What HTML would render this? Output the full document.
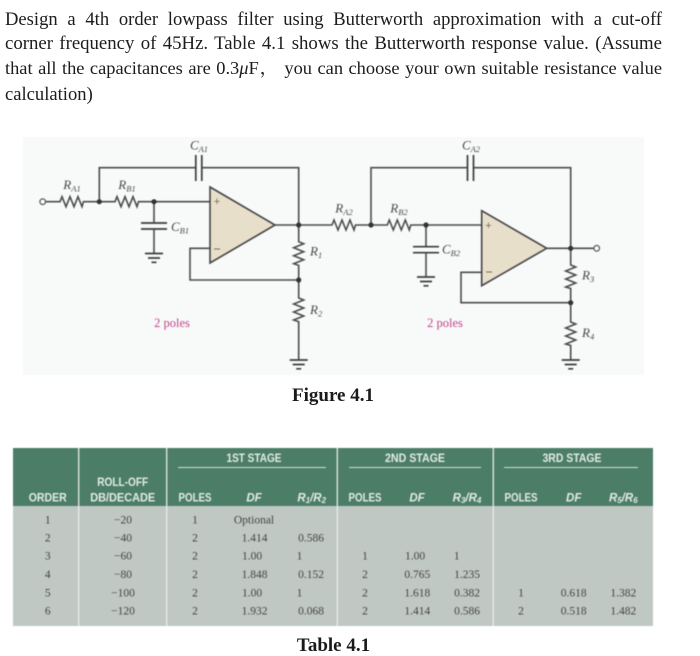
<!DOCTYPE html>
<html><head><meta charset="utf-8"><style>
html,body{margin:0;padding:0;background:#fff}
body{position:relative;width:700px;height:656px;overflow:hidden}
svg{display:block;position:absolute;left:0;top:0}
.t{position:absolute;left:5px;width:657px;height:24px;line-height:24px;font-family:"Liberation Serif","Noto Serif CJK SC",serif;color:#1c1c1c;text-align:justify;text-align-last:justify;filter:blur(.35px)}
.c{font:bold 19px "Liberation Serif",serif;fill:#1a1a1a;text-anchor:middle}
.w{fill:none;stroke:#4c4c4c;stroke-width:1.6}
.g{fill:none;stroke:#3c3c3c;stroke-width:1.7}
.l{font:italic 13px "Liberation Serif",serif;fill:#4a4a4a;text-anchor:middle}
.ls{font:italic 13px "Liberation Serif",serif;fill:#4a4a4a}
.s{font-size:8.5px;font-style:italic}
.p{font:12.5px "Liberation Serif",serif;fill:#c2458f;text-anchor:middle}
.h{font:bold 11.5px "Liberation Sans",sans-serif;fill:#e4ece8;text-anchor:middle}
.hi{font:italic bold 11.5px "Liberation Sans",sans-serif;fill:#e4ece8;text-anchor:middle}
.hs{font-size:8px}
.d{font:11.5px "Liberation Serif",serif;fill:#444;text-anchor:middle}
</style></head><body>
<svg width="700" height="656" viewBox="0 0 700 656" xmlns="http://www.w3.org/2000/svg">
<g style="filter:blur(.45px)">
<rect x="23" y="137" width="621" height="238" fill="#f8f9f9"/>

<!-- stage 1 -->
<polygon points="210,187 275,225 210,263" fill="#e8dfcb"/>
<path class="w" d="M45.5,201.7H60l2,-5 4,10 4,-10 4,10 4,-10 4,10 1.5,-5H115l2,-5 4,10 4,-10 4,10 4,-10 4,10 1.5,-5H210"/>
<path class="w" d="M99.3,201.7V167.7H196M202,167.7H298.7V241.7l5,2 -10,4 10,4 -10,4 10,4 -10,4 5,1.7V298l5,2 -10,4 10,4 -10,4 10,4 -10,4 5,1.7V360"/>
<path class="w" d="M275,225H332l2,-5 4,10 4,-10 4,10 4,-10 4,10 1.5,-5H371"/>
<path class="w" d="M210,248.3H190V280H298.7"/>
<path class="w" d="M154,201.7V223M154,229V253"/>
<polygon points="210,187 275,225 210,263" fill="none" stroke="#444" stroke-width="1.6"/>
<path class="g" d="M195.8,155V181M201.8,155V181M141,223H167M141,229H167"/>
<path class="g" d="M145,253.5H163M148,258H160M151.5,262.3H156.5"/>
<path class="g" d="M289.7,360H307.7M292.7,364.5H304.7M296.2,368.8H301.2"/>
<circle cx="42.7" cy="201.7" r="2.8" fill="#fff" stroke="#555" stroke-width="1.2"/>
<g fill="#333"><circle cx="99.3" cy="201.7" r="2.6"/><circle cx="154" cy="201.7" r="2.6"/><circle cx="298.7" cy="225" r="2.6"/><circle cx="298.7" cy="280" r="2.6"/></g>
<text x="217" y="205" font-family="Liberation Sans" font-size="11" fill="#7a6a50" text-anchor="middle">+</text>
<path d="M214,249H220" stroke="#7a6a50" stroke-width="1"/>

<!-- stage 2 -->
<polygon points="481.7,210.7 546.7,248.3 481.7,285.7" fill="#e8dfcb"/>
<path class="w" d="M371,225H387.3l2,-5 4,10 4,-10 4,10 4,-10 4,10 1.5,-5H481.7"/>
<path class="w" d="M371,225V167.7H467.5M473.5,167.7H570.7V265l5,2 -10,4 10,4 -10,4 10,4 -10,4 5,1.5V322l5,2 -10,4 10,4 -10,4 10,4 -10,4 5,1.5V360"/>
<path class="w" d="M546.7,248.3H593.9"/>
<path class="w" d="M481.7,272.3H461V302.7H570.7"/>
<path class="w" d="M426,225V246.7M426,252.7V277"/>
<polygon points="481.7,210.7 546.7,248.3 481.7,285.7" fill="none" stroke="#444" stroke-width="1.6"/>
<path class="g" d="M467.5,155V181M473.5,155V181M413,246.7H439M413,252.7H439"/>
<path class="g" d="M417,277H435M420,281.5H432M423.5,285.8H428.5"/>
<path class="g" d="M561.7,360H579.7M564.7,364.5H576.7M568.2,368.8H573.2"/>
<circle cx="596.7" cy="248.3" r="2.8" fill="#fff" stroke="#555" stroke-width="1.2"/>
<g fill="#333"><circle cx="371" cy="225" r="2.6"/><circle cx="426" cy="225" r="2.6"/><circle cx="570.7" cy="248.3" r="2.6"/><circle cx="570.7" cy="302.7" r="2.6"/></g>
<text x="488.5" y="229" font-family="Liberation Sans" font-size="11" fill="#7a6a50" text-anchor="middle">+</text>
<path d="M486,272H492" stroke="#7a6a50" stroke-width="1"/>

<!-- circuit labels -->
<text class="l" x="199" y="149.5"><tspan>C</tspan><tspan class="s" dy="2.5">A1</tspan></text>
<text class="l" x="72" y="189"><tspan>R</tspan><tspan class="s" dy="2.5">A1</tspan></text>
<text class="l" x="127" y="189"><tspan>R</tspan><tspan class="s" dy="2.5">B1</tspan></text>
<text class="ls" x="171" y="231"><tspan>C</tspan><tspan class="s" dy="2.5">B1</tspan></text>
<text class="ls" x="310" y="255.5"><tspan>R</tspan><tspan class="s" dy="2.5">1</tspan></text>
<text class="ls" x="310" y="314"><tspan>R</tspan><tspan class="s" dy="2.5">2</tspan></text>
<text class="l" x="344" y="212.5"><tspan>R</tspan><tspan class="s" dy="2.5">A2</tspan></text>
<text class="l" x="399" y="212.5"><tspan>R</tspan><tspan class="s" dy="2.5">B2</tspan></text>
<text class="l" x="471" y="149.5"><tspan>C</tspan><tspan class="s" dy="2.5">A2</tspan></text>
<text class="ls" x="442" y="253.5"><tspan>C</tspan><tspan class="s" dy="2.5">B2</tspan></text>
<text class="ls" x="582" y="279.5"><tspan>R</tspan><tspan class="s" dy="2.5">3</tspan></text>
<text class="ls" x="582" y="337"><tspan>R</tspan><tspan class="s" dy="2.5">4</tspan></text>
<text class="p" x="172" y="327">2 poles</text>
<text class="p" x="445" y="327">2 poles</text>
</g>

<text class="c" x="333" y="401">Figure 4.1</text>
<text class="c" x="333.5" y="651">Table 4.1</text>

<!-- table -->
<g style="filter:blur(.45px)">
<rect x="13" y="448" width="640" height="58" fill="#4b7d67"/>
<rect x="13" y="506" width="640" height="120" fill="#c0c8c3"/>
<path d="M78.7,448V626M166.7,448V626M337.3,448V626M493.3,448V626" stroke="#e6ebe8" stroke-width="1.3"/>
<path d="M178,467.5H326M349,467.5H481M504,467.5H638" stroke="#cfe0d8" stroke-width="1"/>

<text class="h" x="254" y="462" textLength="55" lengthAdjust="spacingAndGlyphs">1ST STAGE</text>
<text class="h" x="415" y="462" textLength="60" lengthAdjust="spacingAndGlyphs">2ND STAGE</text>
<text class="h" x="572" y="462" textLength="59" lengthAdjust="spacingAndGlyphs">3RD STAGE</text>
<text class="h" x="122.7" y="486" textLength="51" lengthAdjust="spacingAndGlyphs">ROLL-OFF</text>
<text class="h" x="122.7" y="501.5" textLength="65" lengthAdjust="spacingAndGlyphs">DB/DECADE</text>
<text class="h" x="47.7" y="501.5" textLength="38" lengthAdjust="spacingAndGlyphs">ORDER</text>
<text class="h" x="195" y="501.5" textLength="33" lengthAdjust="spacingAndGlyphs">POLES</text>
<text class="hi" x="254" y="501.5">DF</text>
<text class="hi" x="311.7" y="501.5">R<tspan class="hs" dy="1.5">1</tspan><tspan dy="-1.5">/R</tspan><tspan class="hs" dy="1.5">2</tspan></text>
<text class="h" x="365" y="501.5" textLength="33" lengthAdjust="spacingAndGlyphs">POLES</text>
<text class="hi" x="417" y="501.5">DF</text>
<text class="hi" x="467" y="501.5">R<tspan class="hs" dy="1.5">3</tspan><tspan dy="-1.5">/R</tspan><tspan class="hs" dy="1.5">4</tspan></text>
<text class="h" x="521" y="501.5" textLength="33" lengthAdjust="spacingAndGlyphs">POLES</text>
<text class="hi" x="573.7" y="501.5">DF</text>
<text class="hi" x="623.3" y="501.5">R<tspan class="hs" dy="1.5">5</tspan><tspan dy="-1.5">/R</tspan><tspan class="hs" dy="1.5">6</tspan></text>

<text class="d" x="47.7" y="523.3">1</text><text class="d" x="123" y="523.3">−20</text><text class="d" x="195" y="523.3">1</text><text class="d" x="254" y="523.3">Optional</text>
<text class="d" x="47.7" y="541.3">2</text><text class="d" x="123" y="541.3">−40</text><text class="d" x="195" y="541.3">2</text><text class="d" x="254.5" y="541.3">1.414</text><text class="d" x="311" y="541.3">0.586</text>
<text class="d" x="47.7" y="559.7">3</text><text class="d" x="123" y="559.7">−60</text><text class="d" x="195" y="559.7">2</text><text class="d" x="252" y="559.7">1.00</text><text class="d" x="299.5" y="559.7">1</text><text class="d" x="365" y="559.7">1</text><text class="d" x="415" y="559.7">1.00</text><text class="d" x="456.7" y="559.7">1</text>
<text class="d" x="47.7" y="578">4</text><text class="d" x="123" y="578">−80</text><text class="d" x="195" y="578">2</text><text class="d" x="254.5" y="578">1.848</text><text class="d" x="311" y="578">0.152</text><text class="d" x="365" y="578">2</text><text class="d" x="417.3" y="578">0.765</text><text class="d" x="467" y="578">1.235</text>
<text class="d" x="47.7" y="596.3">5</text><text class="d" x="123" y="596.3">−100</text><text class="d" x="195" y="596.3">2</text><text class="d" x="252" y="596.3">1.00</text><text class="d" x="299.5" y="596.3">1</text><text class="d" x="365" y="596.3">2</text><text class="d" x="417.3" y="596.3">1.618</text><text class="d" x="467" y="596.3">0.382</text><text class="d" x="521" y="596.3">1</text><text class="d" x="573.7" y="596.3">0.618</text><text class="d" x="623.3" y="596.3">1.382</text>
<text class="d" x="47.7" y="614.7">6</text><text class="d" x="123" y="614.7">−120</text><text class="d" x="195" y="614.7">2</text><text class="d" x="254.5" y="614.7">1.932</text><text class="d" x="311" y="614.7">0.068</text><text class="d" x="365" y="614.7">2</text><text class="d" x="417.3" y="614.7">1.414</text><text class="d" x="467" y="614.7">0.586</text><text class="d" x="521" y="614.7">2</text><text class="d" x="573.7" y="614.7">0.518</text><text class="d" x="623.3" y="614.7">1.482</text>
</g>
</svg>
<div class="t" style="top:8px;font-size:18.6px">Design a 4th order lowpass filter using Butterworth approximation with a cut-off</div>
<div class="t" style="top:32px;font-size:18.8px">corner frequency of 45Hz. Table 4.1 shows the Butterworth response value. (Assume</div>
<div class="t" style="top:56px;font-size:18.4px">that all the capacitances are 0.3<i>μ</i>F， you can choose your own suitable resistance value</div>
<div class="t" style="top:83px;font-size:18.6px;text-align-last:left">calculation)</div>
</body></html>
